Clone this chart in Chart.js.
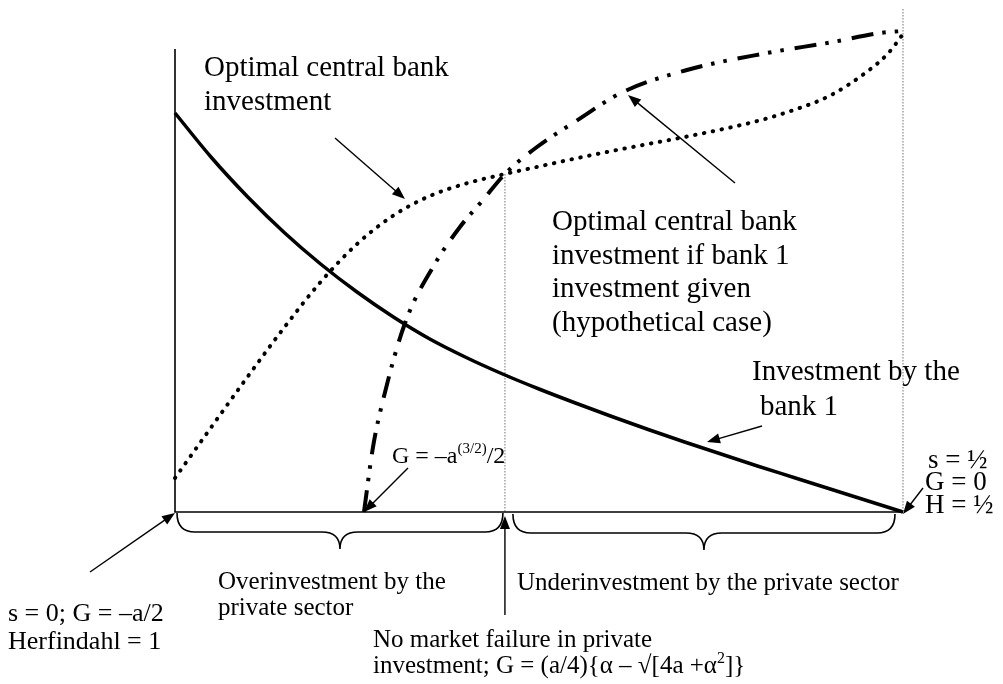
<!DOCTYPE html>
<html>
<head>
<meta charset="utf-8">
<title>Central bank investment</title>
<script src="https://cdn.jsdelivr.net/npm/chart.js@4.4.1/dist/chart.umd.min.js"></script>
<style>
  html, body { margin: 0; padding: 0; background: #fff; }
  #wrap { width: 1003px; height: 684px; }
</style>
</head>
<body>
<div id="wrap"><canvas id="chart" width="1003" height="684"></canvas></div>
<script>
// s runs from 0 (one bank, Herfindahl = 1) to 1/2 (two equal banks)

// Investment by the bank 1 (solid)
const sBank = [0, 0.025, 0.05, 0.075, 0.1, 0.125, 0.15, 0.175, 0.2, 0.225, 0.25,
               0.275, 0.3, 0.325, 0.35, 0.375, 0.4, 0.425, 0.45, 0.475, 0.5];
const bankInvestment = [79.8, 70.9, 63.0, 55.9, 49.6, 44.0, 39.0, 34.6, 30.9, 27.6, 24.6,
                        21.8, 19.1, 16.5, 14.0, 11.6, 9.2, 6.9, 4.6, 2.3, 0];

// Optimal central bank investment (dotted)
const sOptimal = [0, 0.025, 0.05, 0.075, 0.1, 0.125, 0.15, 0.175, 0.2, 0.225, 0.25,
                  0.275, 0.3, 0.325, 0.35, 0.375, 0.4, 0.425, 0.45, 0.475, 0.49, 0.5];
const optimalInvestment = [6.8, 17, 27.1, 36.9, 46.0, 53.6, 59.3, 63.2, 65.7, 67.5, 69.1,
                           70.7, 72.2, 73.6, 75.0, 76.5, 78.2, 80.4, 83.3, 88.0, 91.8, 95.6];

// Optimal central bank investment if bank 1 investment given (dash-dot-dot)
const sGiven = [0.1298, 0.136, 0.1429, 0.158, 0.1772, 0.1957, 0.2115, 0.2266, 0.2486,
                0.2734, 0.3077, 0.3516, 0.4066, 0.4519, 0.4842, 0.5];
const givenInvestment = [0, 13, 22.4, 37.8, 49, 57, 62.4, 67.6, 73,
                         77.8, 84, 88.4, 91.8, 94, 95.8, 96.2];

// points marked on the s axis
const sNoFailure = 0.2266;   // no market failure in private investment
const sHalf = 0.5;           // s = 1/2, H = 1/2

const SERIF = "'Liberation Serif', 'Times New Roman', serif";

function toPoints(xs, ys) {
    return xs.map((x, i) => ({ x: x, y: ys[i] }));
}

function text(ctx, str, x, y, size) {
    ctx.font = size + 'px ' + SERIF;
    ctx.fillText(str, x, y);
}

// text with superscript parts
function richText(ctx, parts, x, y, size) {
    parts.forEach(p => {
        const sz = p.sup ? Math.round(size * 0.62) : size;
        ctx.font = sz + 'px ' + SERIF;
        ctx.fillText(p.t, x, p.sup ? y - size * 0.4 : y);
        x += ctx.measureText(p.t).width;
    });
}

function arrow(ctx, x1, y1, x2, y2) {
    const a = Math.atan2(y2 - y1, x2 - x1);
    const len = 13, half = 5;
    ctx.beginPath();
    ctx.moveTo(x1, y1);
    ctx.lineTo(x2 - Math.cos(a) * len * 0.8, y2 - Math.sin(a) * len * 0.8);
    ctx.stroke();
    ctx.beginPath();
    ctx.moveTo(x2, y2);
    ctx.lineTo(x2 - Math.cos(a) * len - Math.sin(a) * half, y2 - Math.sin(a) * len + Math.cos(a) * half);
    ctx.lineTo(x2 - Math.cos(a) * len + Math.sin(a) * half, y2 - Math.sin(a) * len - Math.cos(a) * half);
    ctx.closePath();
    ctx.fill();
}

// curly brace hanging below the axis
function brace(ctx, x1, x2, y) {
    const h = 19, tip = 36, r = 18;
    const xm = (x1 + x2) / 2;
    ctx.beginPath();
    ctx.moveTo(x1, y);
    ctx.quadraticCurveTo(x1, y + h, x1 + r, y + h);
    ctx.lineTo(xm - r, y + h);
    ctx.quadraticCurveTo(xm, y + h, xm, y + tip);
    ctx.quadraticCurveTo(xm, y + h, xm + r, y + h);
    ctx.lineTo(x2 - r, y + h);
    ctx.quadraticCurveTo(x2, y + h, x2, y);
    ctx.stroke();
}

// Axes, guide lines and braces under the curves, labels on top
const framePlugin = {
    id: 'frame',
    beforeDatasetsDraw(chart) {
        const ctx = chart.ctx;
        const xs = chart.scales.x, ys = chart.scales.y;
        const x0 = xs.getPixelForValue(0), y0 = ys.getPixelForValue(0);
        const xMid = xs.getPixelForValue(sNoFailure), xEnd = xs.getPixelForValue(sHalf);
        ctx.save();

        // dotted grey guide lines
        ctx.strokeStyle = '#8a8a8a';
        ctx.lineWidth = 1.2;
        ctx.setLineDash([1.5, 1.5]);
        ctx.beginPath();
        ctx.moveTo(xMid, ys.getPixelForValue(67.6));
        ctx.lineTo(xMid, y0);
        ctx.moveTo(xEnd, chart.chartArea.top - 3);
        ctx.lineTo(xEnd, y0);
        ctx.stroke();
        ctx.setLineDash([]);

        // axes
        ctx.strokeStyle = '#000';
        ctx.lineWidth = 1.6;
        ctx.beginPath();
        ctx.moveTo(x0, 49);
        ctx.lineTo(x0, y0);
        ctx.lineTo(xEnd, y0);
        ctx.stroke();

        // braces
        ctx.lineWidth = 1.6;
        brace(ctx, x0 + 2, xMid - 2, y0 + 1);
        brace(ctx, xMid + 8, xEnd - 8, y0 + 2);
        ctx.restore();
    },
    afterDraw(chart) {
        const ctx = chart.ctx;
        const xs = chart.scales.x, ys = chart.scales.y;
        const x0 = xs.getPixelForValue(0), y0 = ys.getPixelForValue(0);
        const xMid = xs.getPixelForValue(sNoFailure), xEnd = xs.getPixelForValue(sHalf);
        const xG = xs.getPixelForValue(sGiven[0]);
        ctx.save();
        ctx.fillStyle = '#000';
        ctx.strokeStyle = '#000';
        ctx.lineWidth = 1.4;
        ctx.textBaseline = 'alphabetic';

        // upper labels
        text(ctx, 'Optimal central bank', 204, 76, 29);
        text(ctx, 'investment', 204, 110, 29);
        arrow(ctx, 335, 138, 405, 199);

        text(ctx, 'Optimal central bank', 552, 230, 29);
        text(ctx, 'investment if bank 1', 552, 264, 29);
        text(ctx, 'investment given', 552, 297, 29);
        text(ctx, '(hypothetical case)', 552, 331, 29);
        arrow(ctx, 735, 183, 628, 95);

        text(ctx, 'Investment by the', 752, 380, 29);
        text(ctx, 'bank 1', 760, 415, 29);
        arrow(ctx, 762, 426, 707, 442);

        // right end of the axis
        text(ctx, 's = \u00BD', 928, 468, 27);
        text(ctx, 'G = 0', 925, 490, 27);
        text(ctx, 'H = \u00BD', 925, 513, 27);
        arrow(ctx, 923, 488, xEnd, y0 + 2);

        // G where the hypothetical curve starts
        richText(ctx, [{ t: 'G = \u2013a' }, { t: '(3/2)', sup: true }, { t: '/2' }], 392, 463, 24);
        arrow(ctx, 408, 468, xG, y0);

        // left end of the axis
        text(ctx, 's = 0; G = \u2013a/2', 8, 621, 26);
        text(ctx, 'Herfindahl = 1', 8, 649, 26);
        arrow(ctx, 90, 572, x0, y0 + 1);

        // brace labels
        text(ctx, 'Overinvestment by the', 218, 589, 25);
        text(ctx, 'private sector', 218, 615, 25);
        text(ctx, 'Underinvestment by the private sector', 517, 590, 25);

        // no market failure
        arrow(ctx, xMid, 615, xMid, y0 + 4);
        text(ctx, 'No market failure in private', 373, 647, 25);
        richText(ctx, [{ t: 'investment; G = (a/4){\u03B1 \u2013 \u221A[4a +\u03B1' }, { t: '2', sup: true }, { t: ']}' }], 373, 673, 25);

        ctx.restore();
    }
};

const ctx = document.getElementById('chart');
new Chart(ctx, {
    type: 'scatter',
    data: {
        datasets: [
            {
                label: 'Investment by the bank 1',
                data: toPoints(sBank, bankInvestment),
                showLine: true,
                borderColor: '#000',
                borderWidth: 3.5,
                pointRadius: 0,
                cubicInterpolationMode: 'monotone',
                clip: false
            },
            {
                label: 'Optimal central bank investment',
                data: toPoints(sOptimal, optimalInvestment),
                showLine: true,
                borderColor: '#000',
                borderWidth: 4,
                borderDash: [0.5, 8.5],
                borderCapStyle: 'round',
                pointRadius: 0,
                cubicInterpolationMode: 'monotone',
                clip: false
            },
            {
                label: 'Optimal central bank investment if bank 1 investment given',
                data: toPoints(sGiven, givenInvestment),
                showLine: true,
                borderColor: '#000',
                borderWidth: 4,
                borderDash: [22, 9, 3.5, 9, 3.5, 11],
                pointRadius: 0,
                cubicInterpolationMode: 'monotone',
                clip: false
            }
        ]
    },
    options: {
        responsive: false,
        animation: false,
        layout: { padding: { left: 175, right: 100, top: 12, bottom: 172 } },
        scales: {
            x: { type: 'linear', min: 0, max: 0.5, display: false },
            y: { type: 'linear', min: 0, max: 100, display: false }
        },
        plugins: {
            legend: { display: false },
            tooltip: { enabled: false }
        }
    },
    plugins: [framePlugin]
});
</script>
</body>
</html>
